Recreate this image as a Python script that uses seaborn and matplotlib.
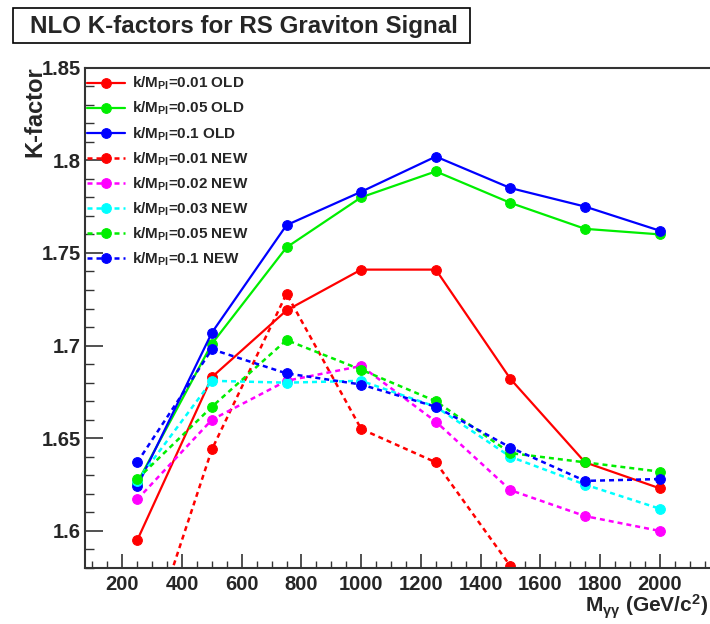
import numpy as np
import pandas as pd
import matplotlib
matplotlib.use("Agg")
import matplotlib.pyplot as plt
from matplotlib.patches import Rectangle
import seaborn as sns

# ---- data ----
mass = [250, 500, 750, 1000, 1250, 1500, 1750, 2000]

old_001 = [1.595, 1.683, 1.719, 1.741, 1.741, 1.682, 1.637, 1.623]
old_005 = [1.626, 1.701, 1.753, 1.780, 1.794, 1.777, 1.763, 1.760]
old_01  = [1.624, 1.707, 1.765, 1.783, 1.802, 1.785, 1.775, 1.762]
new_001 = [1.522, 1.644, 1.728, 1.655, 1.637, 1.581, np.nan, np.nan]
new_002 = [1.617, 1.660, 1.681, 1.689, 1.659, 1.622, 1.608, 1.600]
new_003 = [1.627, 1.681, 1.680, 1.681, 1.667, 1.640, 1.625, 1.612]
new_005 = [1.628, 1.667, 1.703, 1.687, 1.670, 1.642, 1.637, 1.632]
new_01  = [1.637, 1.698, 1.685, 1.679, 1.667, 1.645, 1.627, 1.628]

labels = [
    r"k/M$_{\mathbf{Pl}}$=0.01 OLD",
    r"k/M$_{\mathbf{Pl}}$=0.05 OLD",
    r"k/M$_{\mathbf{Pl}}$=0.1 OLD",
    r"k/M$_{\mathbf{Pl}}$=0.01 NEW",
    r"k/M$_{\mathbf{Pl}}$=0.02 NEW",
    r"k/M$_{\mathbf{Pl}}$=0.03 NEW",
    r"k/M$_{\mathbf{Pl}}$=0.05 NEW",
    r"k/M$_{\mathbf{Pl}}$=0.1 NEW",
]
series = [old_001, old_005, old_01, new_001, new_002, new_003, new_005, new_01]
colors = ["#ff0000", "#00ee00", "#0000ff", "#ff0000", "#ff00ff", "#00ffff", "#00ee00", "#0000ff"]
solid = [True, True, True, False, False, False, False, False]

sns.set_theme(style="white")
plt.rcParams["font.family"] = ["Liberation Sans", "DejaVu Sans"]
plt.rcParams["font.weight"] = "bold"
plt.rcParams["mathtext.fontset"] = "custom"
plt.rcParams["mathtext.rm"] = "Liberation Sans:bold"
plt.rcParams["mathtext.bf"] = "Liberation Sans:bold"
plt.rcParams["mathtext.it"] = "Liberation Sans:bold"

W, H = 710, 624
fig = plt.figure(figsize=(W / 100, H / 100), dpi=100)
fig.patch.set_facecolor("white")
ax = fig.add_axes([85 / W, 1 - 568 / H, 627 / W, (568 - 67.6) / H])
ax.set_facecolor("white")

for lab, vals, col, s in zip(labels, series, colors, solid):
    df = pd.DataFrame({"m": mass, "k": vals})
    sns.lineplot(data=df, x="m", y="k", ax=ax, color=col, marker="o",
                 markersize=7, markeredgecolor=col, markerfacecolor=col,
                 linewidth=1.6 if s else 1.8,
                 linestyle="-" if s else (0, (2.0, 1.6)),
                 label=lab, clip_on=True)

ax.set_xlim(75, 2175)
ax.set_ylim(1.58, 1.85)
ax.set_xticks(np.arange(200, 2001, 200))
ax.set_xticks(np.arange(100, 2176, 50), minor=True)
ax.set_yticks([1.6, 1.65, 1.7, 1.75, 1.8, 1.85])
ax.set_yticklabels(["1.6", "1.65", "1.7", "1.75", "1.8", "1.85"])
ax.set_yticks(np.arange(1.58, 1.851, 0.01), minor=True)
ax.set_xlabel("")
ax.set_ylabel("")

ax.tick_params(axis="y", which="major", direction="in", length=13, width=1.2,
               color="#333333", labelsize=14.5, pad=3, left=True, right=False)
ax.tick_params(axis="y", which="minor", direction="in", length=6.5, width=1.0,
               color="#333333", left=True, right=False)
ax.tick_params(axis="x", which="major", direction="in", length=10, width=1.2,
               color="#333333", labelsize=14.5, pad=5, bottom=True, top=False)
ax.tick_params(axis="x", which="minor", direction="in", length=5, width=1.0,
               color="#333333", bottom=True, top=False)
for lbl in ax.get_xticklabels() + ax.get_yticklabels():
    lbl.set_fontweight("bold")
for sp in ax.spines.values():
    sp.set_visible(True)
    sp.set_color("#333333")
    sp.set_linewidth(1.5)

leg = ax.legend(loc="upper left", bbox_to_anchor=(84 / W, 1 - 72 / H),
                bbox_transform=fig.transFigure, frameon=False,
                prop={"family": "Liberation Sans", "weight": "bold", "size": 11},
                handlelength=2.5, handletextpad=0.45, labelspacing=0.5,
                borderaxespad=0, borderpad=0.2)

# title box
fig.patches.append(Rectangle((13 / W, 1 - 43 / H), (470 - 13) / W, 35 / H,
                             transform=fig.transFigure, facecolor="white",
                             edgecolor="black", linewidth=1.2, zorder=1))
fig.text(244 / W, 1 - 26 / H, "NLO K-factors for RS Graviton Signal",
         ha="center", va="center", fontsize=17.4, fontweight="bold", zorder=2)

fig.text(35 / W, 1 - 66 / H, "K-factor", rotation=90, ha="center", va="top",
         fontsize=17, fontweight="bold")
fig.text(708 / W, 1 - 607 / H, r"M$_{\gamma\gamma}$ (GeV/c$^{2}$)",
         ha="right", va="center", fontsize=15, fontweight="bold")

fig.savefig("out.png", dpi=100, facecolor="white")
